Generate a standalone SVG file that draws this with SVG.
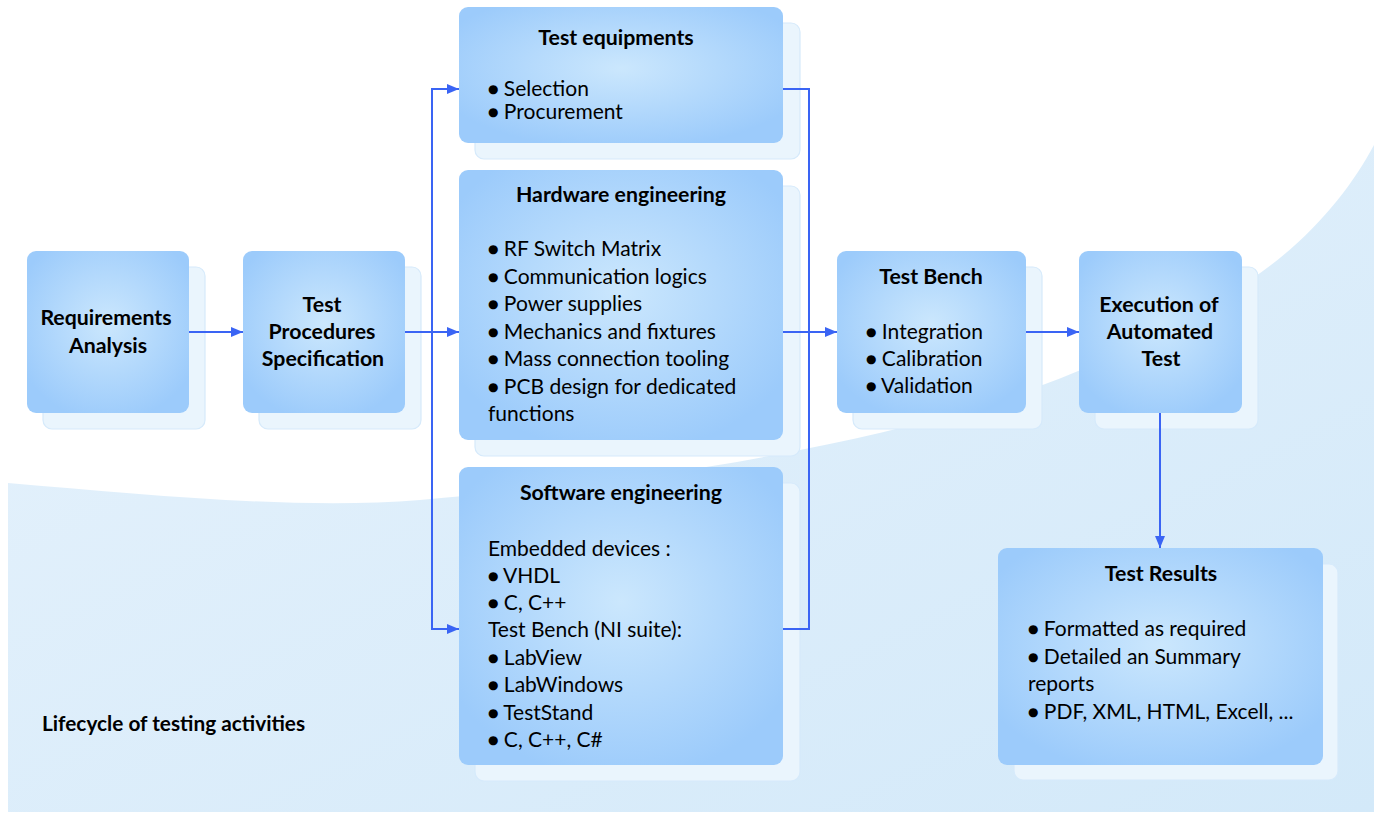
<svg xmlns="http://www.w3.org/2000/svg" width="1381" height="813" viewBox="0 0 1381 813">
<defs>
  <radialGradient id="boxg" cx="50%" cy="45%" r="60%">
    <stop offset="0" stop-color="#cbe7fd"/>
    <stop offset="1" stop-color="#9ccbfb"/>
  </radialGradient>
  <linearGradient id="bgg" x1="0" y1="0" x2="1" y2="1">
    <stop offset="0" stop-color="#e6f2fc"/>
    <stop offset="1" stop-color="#d3e9f9"/>
  </linearGradient>
  <marker id="ah" viewBox="0 0 12 10" refX="12" refY="5" markerWidth="12" markerHeight="10" markerUnits="userSpaceOnUse" orient="auto">
    <path d="M0,0 L12,5 L0,10 z" fill="#3a64f4"/>
  </marker>
  <style>
    .box{fill:url(#boxg);}
    .sh{fill:#eaf5fd;stroke:#d6eafb;stroke-width:1.2;}
    .t{font-family:Lato,"Open Sans",sans-serif;font-weight:bold;font-size:21.3px;fill:#000;text-anchor:middle;}
    .b{font-family:Lato,"Open Sans",sans-serif;font-size:21px;fill:#000;}
    .d{font-family:"DejaVu Sans",sans-serif;font-size:12px;}
    .c{fill:none;stroke:#3a64f4;stroke-width:2;}
  </style>
</defs>
<rect width="1381" height="813" fill="#fff"/>
<path d="M8,483 C150,495 300,510 420,500 C600,485 700,470 800,450 C950,420 1100,380 1250,280 C1310,240 1350,190 1374,145 L1374,812 L8,812 Z" fill="url(#bgg)"/>

<g id="n-req">
  <rect class="sh" x="43" y="267" width="162" height="162" rx="9"/>
  <rect class="box" x="27" y="251" width="162" height="162" rx="9"/>
  <text class="t" x="106" y="325">Requirements</text>
  <text class="t" x="108" y="353">Analysis</text>
</g>

<g id="n-tps">
  <rect class="sh" x="259" y="267" width="162" height="162" rx="9"/>
  <rect class="box" x="243" y="251" width="162" height="162" rx="9"/>
  <text class="t" x="322" y="312">Test</text>
  <text class="t" x="322" y="339">Procedures</text>
  <text class="t" x="323" y="366">Specification</text>
</g>

<g id="n-equip">
  <rect class="sh" x="475" y="23" width="325" height="136" rx="9"/>
  <rect class="box" x="459" y="7" width="324" height="136" rx="9"/>
  <text class="t" x="616" y="45">Test equipments</text>
  <text class="b" x="488" y="96"><tspan class="d" dy="-3">●</tspan><tspan dy="3"> Selection</tspan></text>
  <text class="b" x="488" y="119"><tspan class="d" dy="-3">●</tspan><tspan dy="3"> Procurement</tspan></text>
</g>

<g id="n-hw">
  <rect class="sh" x="475" y="186" width="325" height="270" rx="9"/>
  <rect class="box" x="459" y="170" width="324" height="270" rx="9"/>
  <text class="t" x="621" y="202">Hardware engineering</text>
  <text class="b" x="488" y="256"><tspan class="d" dy="-3">●</tspan><tspan dy="3"> RF Switch Matrix</tspan></text>
  <text class="b" x="488" y="284"><tspan class="d" dy="-3">●</tspan><tspan dy="3"> Communication logics</tspan></text>
  <text class="b" x="488" y="311"><tspan class="d" dy="-3">●</tspan><tspan dy="3"> Power supplies</tspan></text>
  <text class="b" x="488" y="339"><tspan class="d" dy="-3">●</tspan><tspan dy="3"> Mechanics and fixtures</tspan></text>
  <text class="b" x="488" y="366"><tspan class="d" dy="-3">●</tspan><tspan dy="3"> Mass connection tooling</tspan></text>
  <text class="b" x="488" y="394"><tspan class="d" dy="-3">●</tspan><tspan dy="3"> PCB design for dedicated</tspan></text>
  <text class="b" x="488" y="421">functions</text>
</g>

<g id="n-sw">
  <rect class="sh" x="475" y="483" width="325" height="298" rx="9"/>
  <rect class="box" x="459" y="467" width="324" height="298" rx="9"/>
  <text class="t" x="621" y="500">Software engineering</text>
  <text class="b" x="488" y="556">Embedded devices :</text>
  <text class="b" x="488" y="583"><tspan class="d" dy="-3">●</tspan><tspan dy="3"> VHDL</tspan></text>
  <text class="b" x="488" y="610"><tspan class="d" dy="-3">●</tspan><tspan dy="3"> C, C++</tspan></text>
  <text class="b" x="488" y="637">Test Bench (NI suite):</text>
  <text class="b" x="488" y="665"><tspan class="d" dy="-3">●</tspan><tspan dy="3"> LabView</tspan></text>
  <text class="b" x="488" y="692"><tspan class="d" dy="-3">●</tspan><tspan dy="3"> LabWindows</tspan></text>
  <text class="b" x="488" y="720"><tspan class="d" dy="-3">●</tspan><tspan dy="3"> TestStand</tspan></text>
  <text class="b" x="488" y="747"><tspan class="d" dy="-3">●</tspan><tspan dy="3"> C, C++, C#</tspan></text>
</g>

<g id="n-bench">
  <rect class="sh" x="853" y="267" width="189" height="162" rx="9"/>
  <rect class="box" x="837" y="251" width="189" height="162" rx="9"/>
  <text class="t" x="931" y="284">Test Bench</text>
  <text class="b" x="866" y="339"><tspan class="d" dy="-3">●</tspan><tspan dy="3"> Integration</tspan></text>
  <text class="b" x="866" y="366"><tspan class="d" dy="-3">●</tspan><tspan dy="3"> Calibration</tspan></text>
  <text class="b" x="866" y="393"><tspan class="d" dy="-3">●</tspan><tspan dy="3"> Validation</tspan></text>
</g>

<g id="n-exec">
  <rect class="sh" x="1095" y="267" width="163" height="162" rx="9"/>
  <rect class="box" x="1079" y="251" width="163" height="162" rx="9"/>
  <text class="t" x="1159" y="312">Execution of</text>
  <text class="t" x="1160" y="339">Automated</text>
  <text class="t" x="1161" y="366">Test</text>
</g>

<g id="n-results">
  <rect class="sh" x="1014" y="564" width="324" height="216" rx="9"/>
  <rect class="box" x="998" y="548" width="325" height="217" rx="9"/>
  <text class="t" x="1161" y="581">Test Results</text>
  <text class="b" x="1028" y="636"><tspan class="d" dy="-3">●</tspan><tspan dy="3"> Formatted as required</tspan></text>
  <text class="b" x="1028" y="664"><tspan class="d" dy="-3">●</tspan><tspan dy="3"> Detailed an Summary</tspan></text>
  <text class="b" x="1028" y="691">reports</text>
  <text class="b" x="1028" y="719"><tspan class="d" dy="-3">●</tspan><tspan dy="3"> PDF, XML, HTML, Excell, ...</tspan></text>
</g>

<g id="caption">
  <text x="42" y="731" style="font-family:Lato,'Open Sans',sans-serif;font-weight:bold;font-size:20.8px;fill:#000;">Lifecycle of testing activities</text>
</g>

<g id="connectors">
  <path class="c" d="M189,332 H243" marker-end="url(#ah)"/>
  <path class="c" d="M405,332 H459" marker-end="url(#ah)"/>
  <path class="c" d="M432,332 V89 H459" marker-end="url(#ah)"/>
  <path class="c" d="M432,332 V629 H459" marker-end="url(#ah)"/>
  <path class="c" d="M783,89 H809 V629 H783"/>
  <path class="c" d="M783,332 H837" marker-end="url(#ah)"/>
  <path class="c" d="M1026,332 H1079" marker-end="url(#ah)"/>
  <path class="c" d="M1160,413 V548" marker-end="url(#ah)"/>
</g>
</svg>
